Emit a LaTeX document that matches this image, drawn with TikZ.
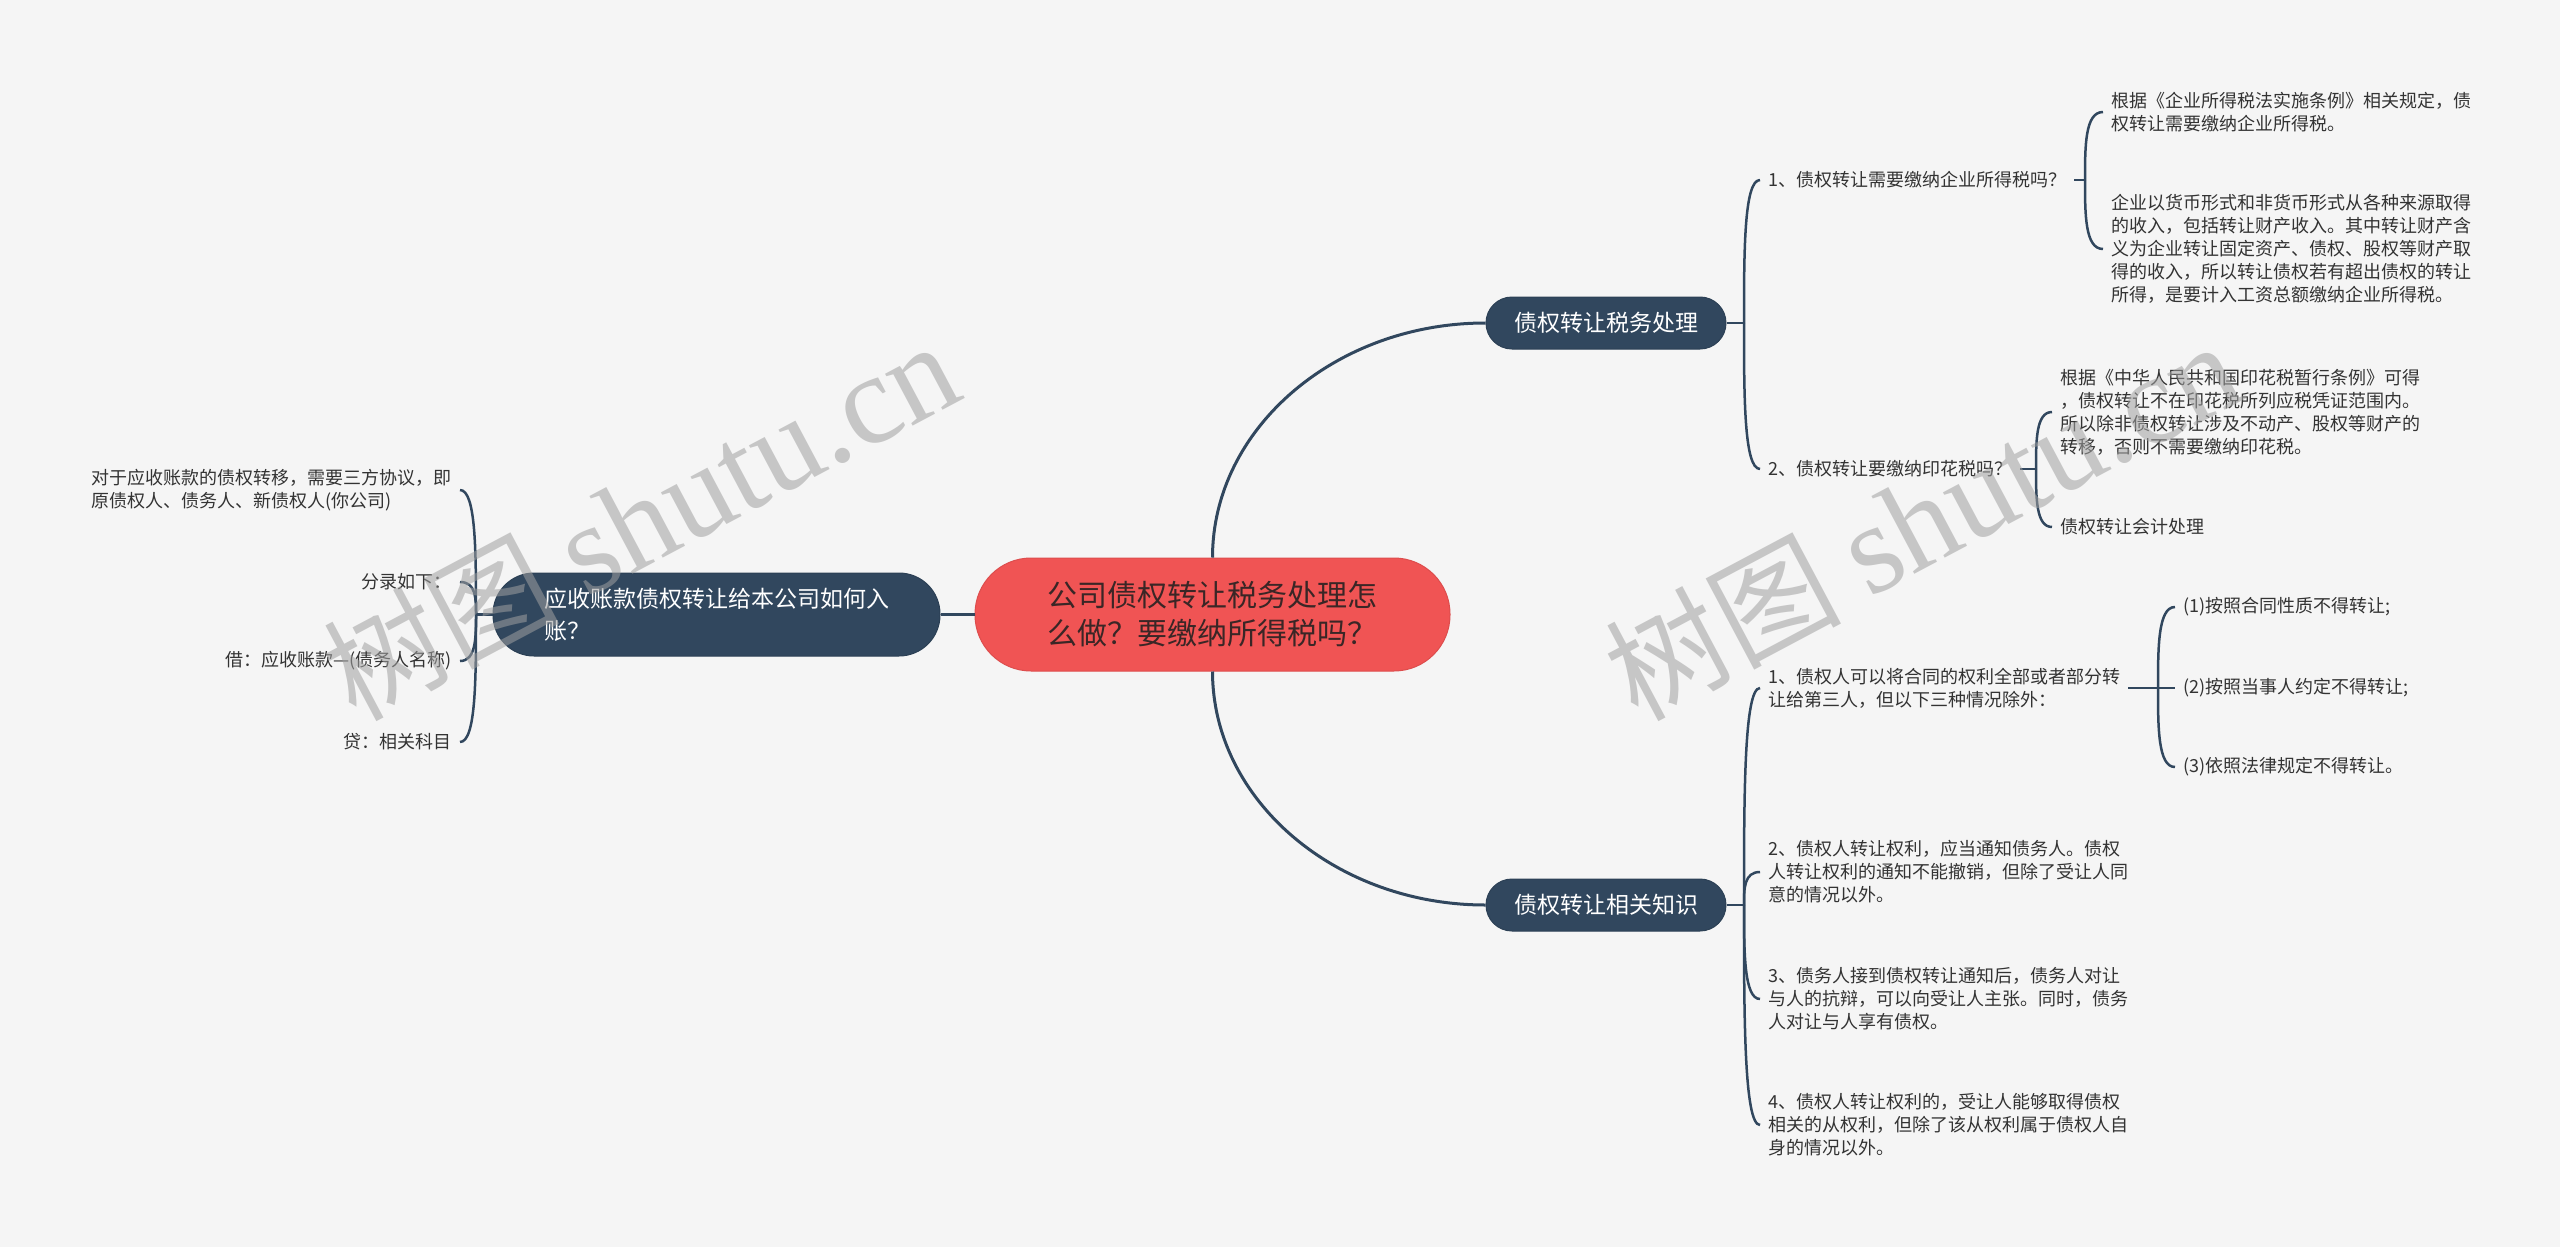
\documentclass[tikz,border=0pt]{standalone}
\usepackage{fontspec}
\setmainfont{Noto Sans CJK SC}
\newfontfamily\wmlat{Liberation Serif}
\usetikzlibrary{calc}
\definecolor{bg}{RGB}{245,245,245}
\definecolor{navy}{RGB}{49,71,94}
\definecolor{redn}{RGB}{240,84,84}
\definecolor{ctrtxt}{RGB}{58,38,38}
\definecolor{txt}{RGB}{51,51,51}
\definecolor{wm}{RGB}{160,160,160}
\newcommand\mmhook[2]{\draw[branch] (#1) .. controls ($(#1)!0.5!(#1 |- #2)$) and (#1 |- #2) .. (#2);}
\begin{document}
\begin{tikzpicture}[x=1pt,y=-1pt,
  rootnode/.style={fill=redn, draw=redn!92!black, line width=1pt, rounded corners=56pt,
    minimum width=475pt, minimum height=113pt, text width=340pt, align=center,
    font=\fontsize{30pt}{38pt}\selectfont, text=ctrtxt, inner sep=0pt},
  topicnode/.style={fill=navy, draw=navy!90!black, line width=1pt, rounded corners=26pt,
    minimum width=240pt, minimum height=52pt, text=white,
    font=\fontsize{23pt}{30pt}\selectfont, inner sep=0pt},
  bigtopic/.style={fill=navy, draw=navy!90!black, line width=1pt, rounded corners=41pt,
    minimum width=447pt, minimum height=83pt, text=white, text width=345pt, align=left,
    font=\fontsize{23pt}{32pt}\selectfont, inner sep=0pt},
  leaf/.style={text=txt, font=\fontsize{18pt}{23pt}\selectfont, inner xsep=8pt, inner ysep=2pt, align=left},
  link/.style={draw=navy, line width=3pt},
  branch/.style={draw=navy, line width=2.5pt},
  wmk/.style={text=wm, opacity=0.55, font=\fontsize{118pt}{118pt}\selectfont, inner sep=0pt}
]
\fill[bg] (0,0) rectangle (2560,1247);
\useasboundingbox (0,0) rectangle (2560,1247);

% main nodes
\node[rootnode] (ctr) at (1212.5,614.5) {公司债权转让税务处理怎\\么做？要缴纳所得税吗？};
\node[topicnode] (A) at (1606,323) {债权转让税务处理};
\node[topicnode] (B) at (1606,905) {债权转让相关知识};
\node[bigtopic] (C) at (716.5,614.5) {应收账款债权转让给本公司如何入\\账？};

% top branch leaves
\node[leaf, anchor=west] (A1) at (1760,180) {1、债权转让需要缴纳企业所得税吗？};
\node[leaf, anchor=west] (A1a) at (2103,112) {根据《企业所得税法实施条例》相关规定，债\\权转让需要缴纳企业所得税。};
\node[leaf, anchor=west] (A1b) at (2103,249) {企业以货币形式和非货币形式从各种来源取得\\的收入，包括转让财产收入。其中转让财产含\\义为企业转让固定资产、债权、股权等财产取\\得的收入，所以转让债权若有超出债权的转让\\所得，是要计入工资总额缴纳企业所得税。};
\node[leaf, anchor=west] (A2) at (1760,469) {2、债权转让要缴纳印花税吗？};
\node[leaf, anchor=west] (A2a) at (2052,412) {根据《中华人民共和国印花税暂行条例》可得\\，债权转让不在印花税所列应税凭证范围内。\\所以除非债权转让涉及不动产、股权等财产的\\转移，否则不需要缴纳印花税。};
\node[leaf, anchor=west] (A2b) at (2052,527) {债权转让会计处理};

% bottom branch leaves
\node[leaf, anchor=west] (B1) at (1760,688) {1、债权人可以将合同的权利全部或者部分转\\让给第三人，但以下三种情况除外：};
\node[leaf, anchor=west] (B1a) at (2175,607) {(1)按照合同性质不得转让;};
\node[leaf, anchor=west] (B1b) at (2175,688) {(2)按照当事人约定不得转让;};
\node[leaf, anchor=west] (B1c) at (2175,767) {(3)依照法律规定不得转让。};
\node[leaf, anchor=west] (B2) at (1760,872) {2、债权人转让权利，应当通知债务人。债权\\人转让权利的通知不能撤销，但除了受让人同\\意的情况以外。};
\node[leaf, anchor=west] (B3) at (1760,999) {3、债务人接到债权转让通知后，债务人对让\\与人的抗辩，可以向受让人主张。同时，债务\\人对让与人享有债权。};
\node[leaf, anchor=west] (B4) at (1760,1125) {4、债权人转让权利的，受让人能够取得债权\\相关的从权利，但除了该从权利属于债权人自\\身的情况以外。};

% left branch leaves
\node[leaf, anchor=east] (C1) at (460,490) {对于应收账款的债权转移，需要三方协议，即\\原债权人、债务人、新债权人(你公司)};
\node[leaf, anchor=east] (C2) at (460,582) {分录如下：};
\node[leaf, anchor=east] (C3) at (460,661) {借：应收账款—(债务人名称)};
\node[leaf, anchor=east] (C4) at (460,742) {贷：相关科目};

% main connectors
\draw[link] (ctr.west) -- (C.east);
\draw[link] (ctr.north) .. controls ($(ctr.north)!0.55!(ctr.north |- A.west)$) and ($(A.west)!0.55!(ctr.north |- A.west)$) .. (A.west);
\draw[link] (ctr.south) .. controls ($(ctr.south)!0.55!(ctr.south |- B.west)$) and ($(B.west)!0.55!(ctr.south |- B.west)$) .. (B.west);

% forks
\coordinate (fA) at (1744,323);
\coordinate (fA1) at (2085,180);
\coordinate (fA2) at (2036,469);
\coordinate (fB) at (1744,905);
\coordinate (fB1) at (2158,688);
\coordinate (fC) at (476,614.5);

\draw[branch] (A.east) -- (fA);
\mmhook{fA}{A1.west}
\mmhook{fA}{A2.west}
\draw[branch] (A1.east) -- (fA1);
\mmhook{fA1}{A1a.west}
\mmhook{fA1}{A1b.west}
\draw[branch] (A2.east) -- (fA2);
\mmhook{fA2}{A2a.west}
\mmhook{fA2}{A2b.west}

\draw[branch] (B.east) -- (fB);
\mmhook{fB}{B1.west}
\mmhook{fB}{B2.west}
\mmhook{fB}{B3.west}
\mmhook{fB}{B4.west}
\draw[branch] (B1.east) -- (fB1);
\mmhook{fB1}{B1a.west}
\draw[branch] (fB1) -- (B1b.west);
\mmhook{fB1}{B1c.west}

\draw[branch] (C.west) -- (fC);
\mmhook{fC}{C1.east}
\mmhook{fC}{C2.east}
\mmhook{fC}{C3.east}
\mmhook{fC}{C4.east}

% watermarks
\node[wmk, rotate=28] (wm1) at (640,520) {树图 {\wmlat\fontsize{128pt}{128pt}\selectfont shutu.cn}};
\node[wmk, rotate=28] (wm2) at (1922,520) {树图 {\wmlat\fontsize{128pt}{128pt}\selectfont shutu.cn}};
\end{tikzpicture}
\end{document}
